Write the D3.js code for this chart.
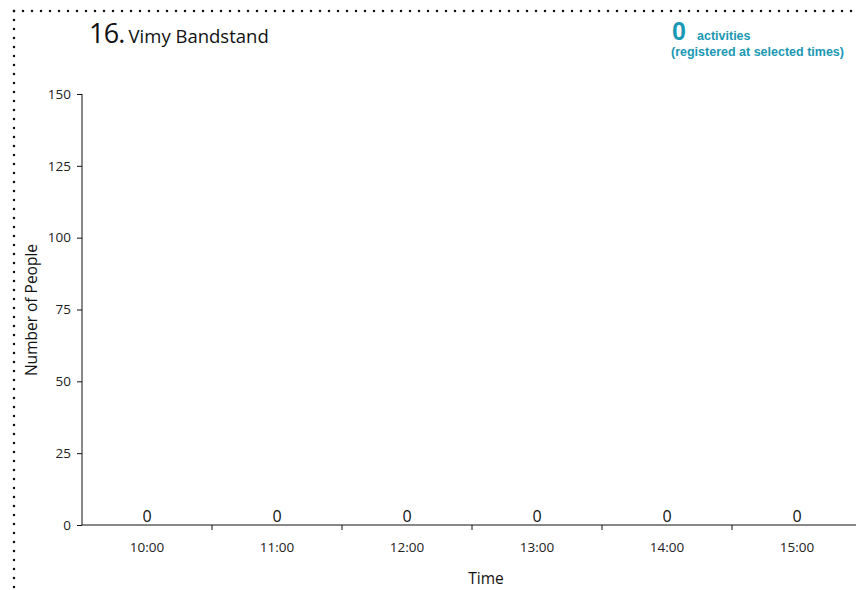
<!DOCTYPE html>
<html><head><meta charset="utf-8">
<script src="https://cdn.jsdelivr.net/npm/d3@7"></script>
<style>
html,body{margin:0;padding:0;background:#fff;overflow:hidden;}
svg{display:block;}
</style></head>
<body>
<script>
const categories = ["10:00","11:00","12:00","13:00","14:00","15:00"];
const values = [0,0,0,0,0,0];
const yTicks = [0,25,50,75,100,125,150];
const titleNumber = "16.";
const titleName = "Vimy Bandstand";
const activityCount = 0;

const W = 856, H = 590;
const teal = "#1a98b4";
const font = "'Open Sans','Noto Sans',sans-serif";
const svg = d3.select("body").append("svg").attr("width", W).attr("height", H);

// dotted frame
svg.append("line").attr("x1",14).attr("y1",11).attr("x2",W).attr("y2",11)
  .attr("stroke","#111").attr("stroke-width",2.5).attr("stroke-linecap","round").attr("stroke-dasharray","0,9");
svg.append("line").attr("x1",14).attr("y1",11).attr("x2",14).attr("y2",H)
  .attr("stroke","#111").attr("stroke-width",2.5).attr("stroke-linecap","round").attr("stroke-dasharray","0,9");

// title
const t = svg.append("text").attr("x",89).attr("y",43).attr("font-family",font).attr("fill","#111");
t.append("tspan").attr("font-size",27).attr("letter-spacing",-0.8).text(titleNumber);
t.append("tspan").attr("dx",4).attr("font-size",18.5).text(titleName);

// activities
const afont = "'Liberation Sans Narrow','Arial Narrow','Liberation Sans',sans-serif";
svg.append("text").attr("x",672).attr("y",40).attr("font-family","'Liberation Sans',Arial,sans-serif")
  .attr("font-weight","bold").attr("font-size",25).attr("fill",teal).text(activityCount);
svg.append("text").attr("x",697).attr("y",40).attr("font-family",afont)
  .attr("font-weight","bold").attr("font-size",12.5).attr("fill",teal).text("activities");
svg.append("text").attr("x",671).attr("y",56).attr("font-family",afont)
  .attr("font-weight","bold").attr("font-size",12.5).attr("fill",teal).text("(registered at selected times)");

// scales
const x = d3.scaleBand().domain(categories).range([82,862]).paddingInner(0).paddingOuter(0);
const y = d3.scaleLinear().domain([0,150]).range([525,94]);

// bars
svg.append("g").selectAll("rect").data(values).join("rect")
  .attr("x",(d,i)=>x(categories[i])+15).attr("width",x.bandwidth()-30)
  .attr("y",d=>y(d)).attr("height",d=>y(0)-y(d)).attr("fill",teal);

// y axis
const ya = svg.append("g").attr("transform","translate(82,0)")
  .call(d3.axisLeft(y).tickValues(yTicks).tickSize(5).tickPadding(6));
ya.select(".domain").attr("stroke","#111").attr("d","M0,94V525");
ya.selectAll(".tick line").attr("stroke","#111");
ya.selectAll("text").attr("font-family",font).attr("font-size",13.5).attr("fill","#222");

// x axis
const xa = svg.append("g").attr("transform","translate(0,525)")
  .call(d3.axisBottom(x).tickSize(0).tickPadding(17));
xa.select(".domain").attr("stroke","#111").attr("d","M82,0H"+W);
xa.selectAll("text").attr("font-family",font).attr("font-size",13.5).attr("fill","#222");
// band boundary ticks
svg.append("g").selectAll("line").data(categories.slice(1)).join("line")
  .attr("x1",d=>x(d)).attr("x2",d=>x(d)).attr("y1",525).attr("y2",530)
  .attr("stroke","#111");

// value labels
svg.append("g").selectAll("text").data(values).join("text")
  .attr("x",(d,i)=>x(categories[i])+x.bandwidth()/2).attr("y",d=>y(d)-3)
  .attr("text-anchor","middle").attr("font-family",font).attr("font-size",16).attr("fill","#111")
  .text(d=>d);

// axis titles
svg.append("text").attr("x",486).attr("y",584).attr("text-anchor","middle")
  .attr("font-family",font).attr("font-size",15.5).attr("fill","#111").text("Time");
svg.append("text").attr("transform","translate(37,310) rotate(-90)").attr("text-anchor","middle")
  .attr("font-family",font).attr("font-size",15.5).attr("fill","#111").text("Number of People");
</script>
</body></html>
